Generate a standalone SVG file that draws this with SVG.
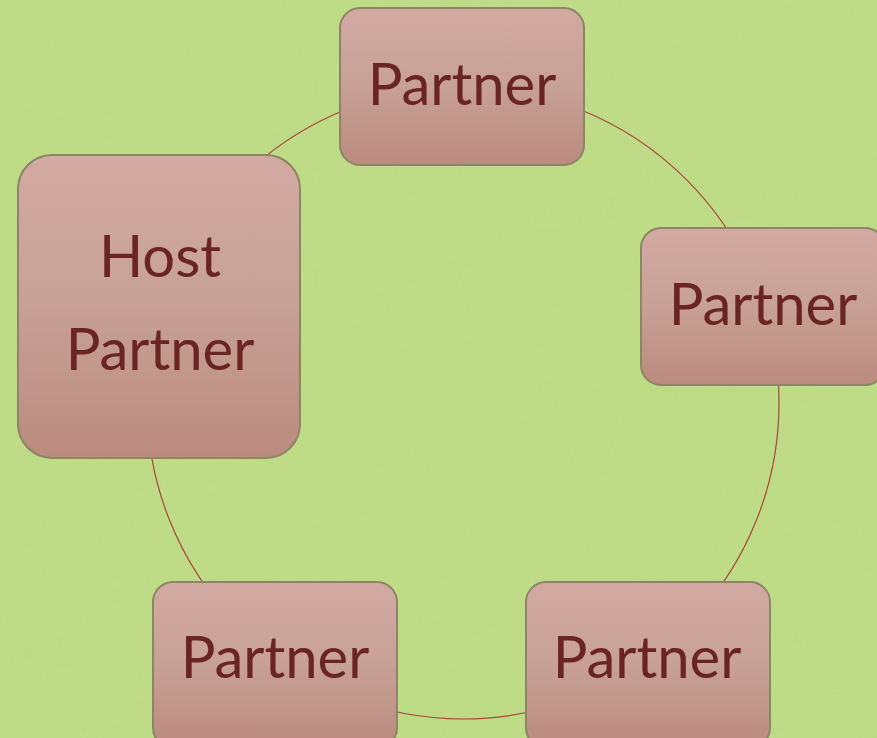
<svg xmlns="http://www.w3.org/2000/svg" width="877" height="738" viewBox="0 0 877 738">
  <defs>
    <linearGradient id="nodeFill" x1="0" y1="0" x2="0" y2="1">
      <stop offset="0" stop-color="#D2AAA2"/>
      <stop offset="0.5" stop-color="#C7A096"/>
      <stop offset="1" stop-color="#BB8B7E"/>
    </linearGradient>
    <filter id="paper" x="0" y="0" width="100%" height="100%">
      <feTurbulence type="fractalNoise" baseFrequency="0.012" numOctaves="4" seed="7" result="n"/>
      <feColorMatrix in="n" type="matrix" values="0 0 0 0 0.55  0 0 0 0 0.7  0 0 0 0 0.3  0 0 0 0.35 -0.05" result="c"/>
      <feComposite in="c" in2="SourceGraphic" operator="in"/>
    </filter>
    <style>
      .node rect { fill: url(#nodeFill); stroke: #8C8566; stroke-width: 2; }
      .node text { font-family: Lato, "Open Sans", "Liberation Sans", sans-serif; font-size: 58px; fill: #6B2424; text-anchor: middle; }
      .conn { fill: none; stroke: #A8463C; stroke-width: 1.2; }
    </style>
  </defs>
  <rect width="877" height="738" fill="#BEDB85"/>
  <rect width="877" height="738" fill="#BEDB85" filter="url(#paper)" opacity="0.6"/>
  <g id="connectors">
    <circle class="conn" cx="463" cy="403" r="316"/>
  </g>
  <g id="node-top" class="node">
    <rect x="340" y="8" width="244" height="157" rx="20"/>
    <text x="462" y="105">Partner</text>
  </g>
  <g id="node-host" class="node">
    <rect x="18" y="155" width="282" height="303" rx="34"/>
    <text x="160" y="277">Host</text>
    <text x="160" y="370">Partner</text>
  </g>
  <g id="node-right" class="node">
    <rect x="641" y="228" width="244" height="157" rx="20"/>
    <text x="763" y="325">Partner</text>
  </g>
  <g id="node-bottom-right" class="node">
    <rect x="526" y="582" width="244" height="166" rx="20"/>
    <text x="647" y="678">Partner</text>
  </g>
  <g id="node-bottom-left" class="node">
    <rect x="153" y="582" width="244" height="166" rx="20"/>
    <text x="275" y="678">Partner</text>
  </g>
</svg>
